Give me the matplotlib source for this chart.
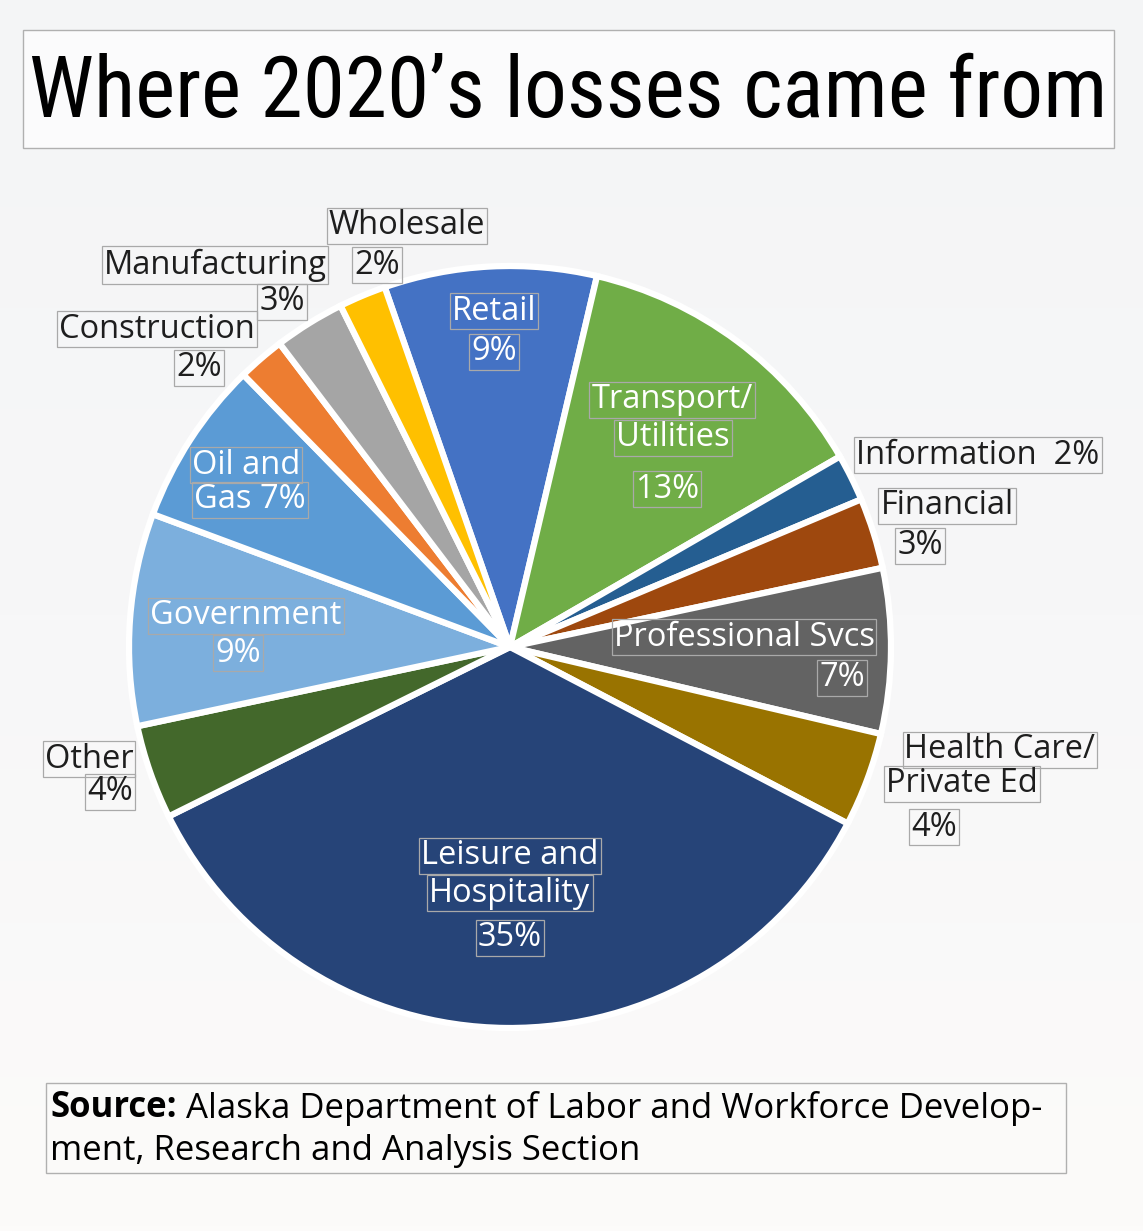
import numpy as np
import matplotlib.pyplot as plt
from matplotlib import font_manager

# sectors, clockwise from Retail (top)
sectors = ["Retail", "Transport/Utilities", "Information", "Financial",
           "Professional Svcs", "Health Care/Private Ed", "Leisure and Hospitality",
           "Other", "Government", "Oil and Gas", "Construction", "Manufacturing",
           "Wholesale"]
shares = [9, 13, 2, 3, 7, 4, 35, 4, 9, 7, 2, 3, 2]
colors = ["#4472C4", "#70AD47", "#255E91", "#9E480E", "#636363", "#997300",
          "#264478", "#43682B", "#7CAFDD", "#5B9BD5", "#ED7D31", "#A5A5A5",
          "#FFC000"]

W, H = 1143, 1231
fig = plt.figure(figsize=(W / 100, H / 100), dpi=100)

# pick a Roboto condensed face for the title if one is there
cands = [f for f in font_manager.fontManager.ttflist
         if "roboto" in f.fname.lower() and "condensed" in f.fname.lower()
         and "italic" not in f.fname.lower()]
narrow = None
for key in ("regular", "light", ""):
    for f in cands:
        if key in f.fname.lower().replace("-", ""):
            narrow = f
            break
    if narrow:
        break
if narrow is None:
    for f in font_manager.fontManager.ttflist:
        if ("Narrow" in f.name or "Condensed" in f.name) and f.style == "normal":
            narrow = f
            break
txt_dbg = narrow.fname if narrow else "none"

# light background
bg = fig.add_axes([0, 0, 1, 1])
grad = np.linspace(0, 1, 256).reshape(-1, 1)
bg.imshow(grad, cmap=plt.matplotlib.colors.LinearSegmentedColormap.from_list(
    "bg", ["#f4f5f6", "#f7f7f8", "#fcfbfa"]), aspect="auto", extent=[0, 1, 0, 1])
bg.set_axis_off()

ax = fig.add_axes([0, 0, 1, 1])
ax.set_axis_off()
ax.patch.set_alpha(0)

ax.pie(shares, colors=colors, startangle=109.2, counterclock=False,
       center=(510, H - 647), radius=381, frame=True,
       wedgeprops=dict(edgecolor="white", linewidth=4.5))
ax.set_xlim(0, W)
ax.set_ylim(0, H)
ax.set_axis_off()

font = "Open Sans"
box = dict(boxstyle="square,pad=0.06", fc="none", ec="#a9a9a9", lw=0.9)


def lab(x, y, s, c="white", ha="center"):
    ax.text(x, H - y, s, color=c, fontsize=23.5, family=font, ha=ha, va="center",
            bbox=box)


dark = "#1e1e1e"
lab(494, 311, "Retail")
lab(494, 352, "9%")
lab(672, 400, "Transport/")
lab(673, 438, "Utilities")
lab(667, 489, "13%")
lab(978, 455, "Information  2%", dark)
lab(947, 506, "Financial", dark)
lab(920, 546, "3%", dark)
lab(744, 637, "Professional Svcs")
lab(842, 678, "7%")
lab(1000, 750, "Health Care/", dark)
lab(962, 784, "Private Ed", dark)
lab(934, 827, "4%", dark)
lab(510, 856, "Leisure and")
lab(510, 893, "Hospitality")
lab(510, 938, "35%")
lab(89, 759, "Other", dark)
lab(110, 792, "4%", dark)
lab(246, 616, "Government")
lab(238, 653, "9%")
lab(246, 465, "Oil and")
lab(250, 500, "Gas 7%")
lab(157, 329, "Construction", dark)
lab(199, 368, "2%", dark)
lab(215, 265, "Manufacturing", dark)
lab(282, 302, "3%", dark)
lab(407, 226, "Wholesale", dark)
lab(377, 265, "2%", dark)

# title, sized to fill its box
ax.add_patch(plt.Rectangle((23, H - 148), 1091, 118, fc="#fbfbfc", ec="#b0b0b0",
                           lw=1))
if narrow is not None:
    tprops = font_manager.FontProperties(fname=narrow.fname)
else:
    tprops = font_manager.FontProperties(family="Roboto")
title = ax.text(568, H - 94, "Where 2020\u2019s losses came from",
                fontproperties=tprops, ha="center", va="center", color="black")
title.set_fontsize(60)
fig.canvas.draw()
tw = title.get_window_extent().width
title.set_fontsize(min(60 * 1078 / tw, 70))

# source
src = ax.text(50, H - 1108, "Source:", fontsize=25, family=font, weight="bold",
              ha="left", va="center", color="black")
ax.annotate(" Alaska Department of Labor and Workforce Develop-", xycoords=src,
            xy=(1, 0.5), va="center", ha="left", fontsize=25, family=font,
            color="black")
ax.text(50, H - 1151, "ment, Research and Analysis Section", fontsize=25,
        family=font, ha="left", va="center", color="black")
ax.add_patch(plt.Rectangle((46, H - 1173), 1020, 90, fill=False, ec="#b0b0b0",
                           lw=1))

fig.savefig("out.png", dpi=100)
